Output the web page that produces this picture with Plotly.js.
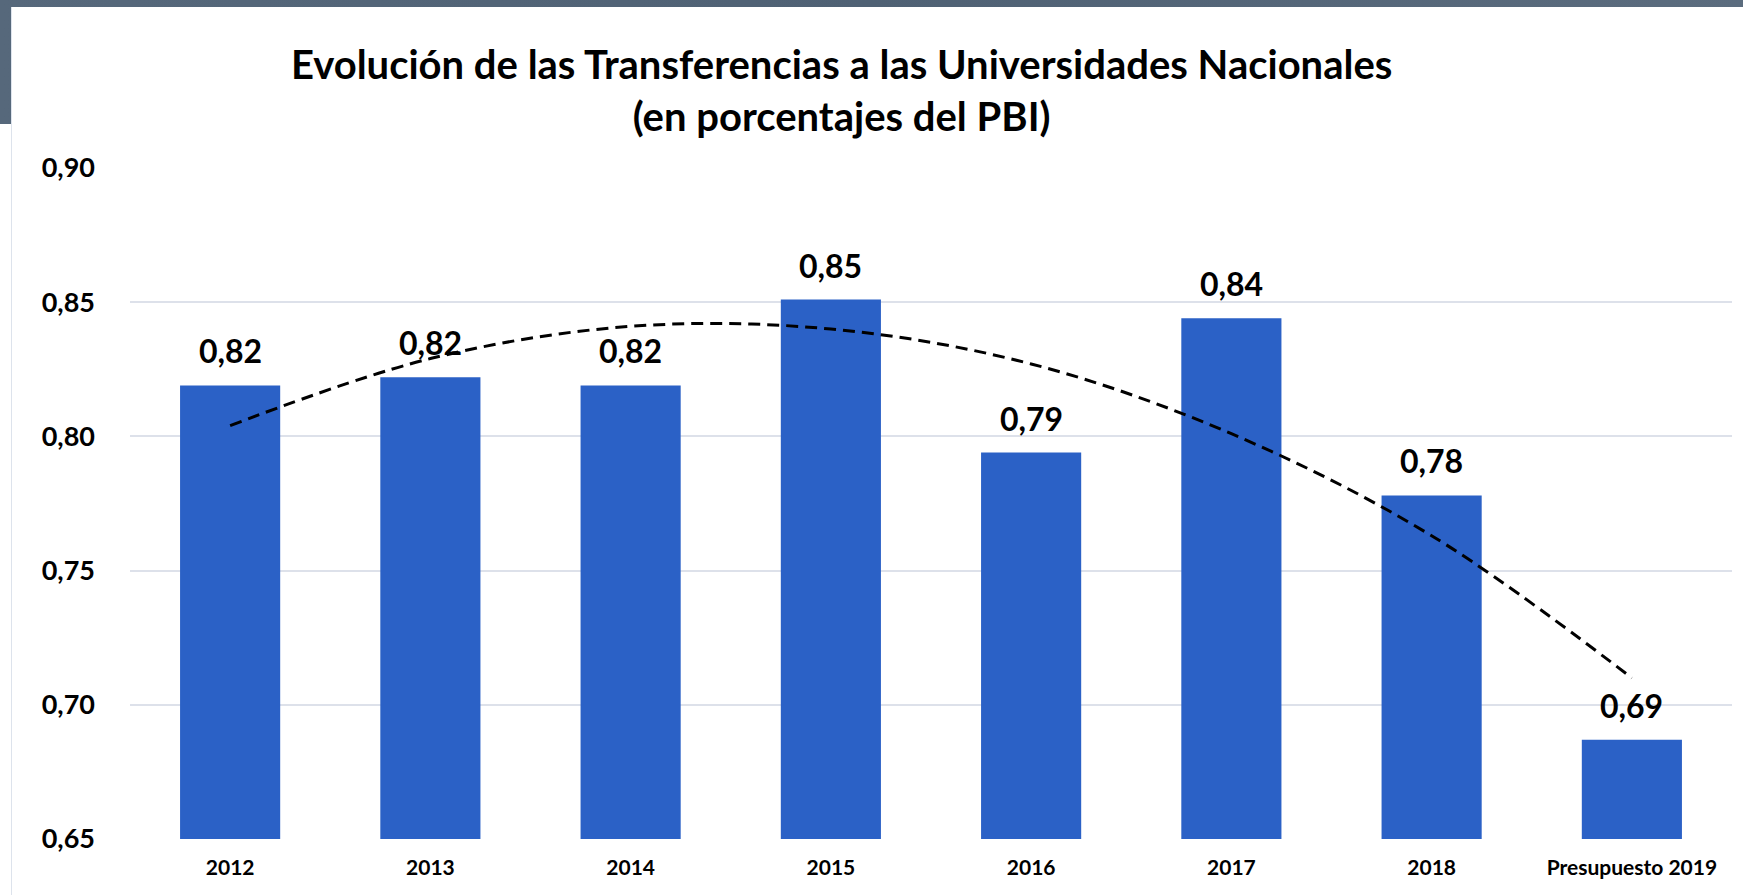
<!DOCTYPE html>
<html>
<head>
<meta charset="utf-8">
<script src="https://cdn.plot.ly/plotly-3.0.1.min.js"></script>
<style>
  body { margin: 0; background: #ffffff; overflow: hidden; }
  #bg { position: absolute; left: 0; top: 0; width: 1743px; height: 124px;
        background: linear-gradient(90deg, #56687b, #4f6174 50%, #5b6c7e); }
  #myPlot { position: absolute; left: 11px; top: 7px; width: 1732px; height: 888px;
            border-left: 1px solid #dde3ec; background: #ffffff; }
</style>
</head>
<body>
<div id="bg"></div>
<div id="myPlot"></div>
<script>
// categories and values
var years = ["2012", "2013", "2014", "2015", "2016", "2017", "2018", "Presupuesto 2019"];
var pbiShare = [0.819, 0.822, 0.819, 0.851, 0.794, 0.844, 0.778, 0.687];
// dashed polynomial trend, read at each category
var trendValues = [0.804, 0.829, 0.841, 0.840, 0.827, 0.801, 0.763, 0.710];

function fmt(v) {
    return v.toFixed(2).replace(".", ",");
}

function drawPlot() {
    var bars = {
        x: years,
        y: pbiShare,
        type: 'bar',
        marker: {color: '#2b61c6'},
        hoverinfo: 'x+y'
    };
    var trend = {
        x: years,
        y: trendValues,
        mode: 'lines',
        type: 'scatter',
        line: {shape: 'spline', color: '#000000', width: 3, dash: '12px,7px'},
        hoverinfo: 'skip'
    };

    // value labels above bars (x as category index)
    var labels = [];
    for (var i = 0; i < years.length; i++) {
        labels.push({
            x: i,
            y: pbiShare[i],
            text: fmt(pbiShare[i]),
            showarrow: false,
            yanchor: 'bottom',
            yshift: 13,
            font: {family: 'Lato', size: 32, color: '#000000', weight: 'bold'}
        });
    }

    var layout = {
        width: 1732,
        height: 888,
        margin: {l: 118, r: 12, t: 161, b: 56},
        paper_bgcolor: '#ffffff',
        plot_bgcolor: '#ffffff',
        showlegend: false,
        bargap: 0.5,
        separators: ',.',
        title: {
            text: 'Evolución de las Transferencias a las Universidades Nacionales<br>(en porcentajes del PBI)',
            font: {family: 'Lato', size: 40, color: '#000000', weight: 'bold'},
            xref: 'container',
            x: 0.479,
            xanchor: 'center',
            yref: 'container',
            y: 0.919,
            yanchor: 'top'
        },
        xaxis: {
            type: 'category',
            categoryorder: 'array',
            categoryarray: years,
            range: [-0.5, years.length - 0.5],
            autorange: false,
            showgrid: false,
            showline: false,
            ticks: '',
            ticklabelstandoff: 14,
            tickfont: {family: 'Lato', size: 21, color: '#000000', weight: 'bold'}
        },
        yaxis: {
            range: [0.65, 0.90],
            dtick: 0.05,
            tickformat: '.2f',
            showgrid: true,
            gridcolor: '#dde1ea',
            gridwidth: 2,
            zeroline: false,
            showline: false,
            ticklabelstandoff: 34,
            tickfont: {family: 'Lato', size: 27, color: '#000000', weight: 'bold'}
        },
        annotations: labels
    };

    Plotly.newPlot('myPlot', [bars, trend], layout, {displayModeBar: false});
}

drawPlot();
</script>
</body>
</html>
